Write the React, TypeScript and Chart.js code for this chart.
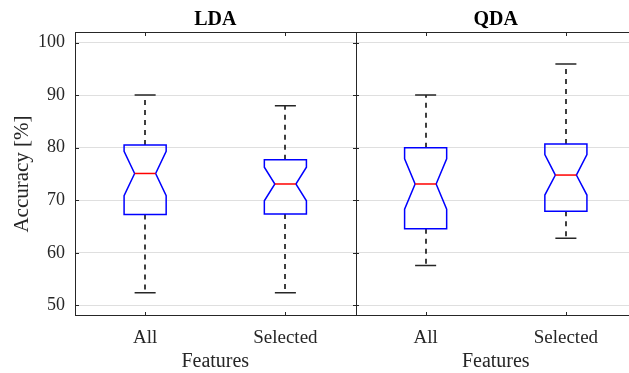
import React, { useEffect, useRef } from "react";
import { Chart, registerables } from "chart.js";

Chart.register(...registerables);

const panels = ["LDA", "QDA"];
const categories = ["All", "Selected", "All", "Selected"];
const xPositions = [1, 2, 3, 4];
const whiskerLow = [52.4, 52.4, 57.6, 62.8];
const q1 = [67.3, 67.4, 64.6, 67.9];
const notchLow = [70.9, 69.9, 68.3, 71.0];
const median = [75.1, 73.1, 73.1, 74.8];
const notchHigh = [79.3, 76.3, 77.9, 78.7];
const q3 = [80.5, 77.7, 80.0, 80.7];
const whiskerHigh = [90.0, 88.0, 90.0, 95.9];
const yTicks = [50, 60, 70, 80, 90, 100];
const xTitle = "Features";
const yTitle = "Accuracy [%]";

const FONT = "'Liberation Serif', 'Times New Roman', serif";
const AXIS = "#262626";

const boxPlugin = {
  id: "boxPlugin",
  afterDatasetsDraw(chart: any) {
    const { ctx, chartArea, scales } = chart;
    const xs = scales.x;
    const ys = scales.y;
    const half = 0.15;
    const notchHalf = 0.075;
    const capHalf = 0.075;
    ctx.save();
    for (let i = 0; i < xPositions.length; i++) {
      const xc = Math.round(xs.getPixelForValue(xPositions[i]));
      const xl = xs.getPixelForValue(xPositions[i] - half);
      const xr = xs.getPixelForValue(xPositions[i] + half);
      const nl = xs.getPixelForValue(xPositions[i] - notchHalf);
      const nr = xs.getPixelForValue(xPositions[i] + notchHalf);
      const cl = xs.getPixelForValue(xPositions[i] - capHalf);
      const cr = xs.getPixelForValue(xPositions[i] + capHalf);
      const yWL = ys.getPixelForValue(whiskerLow[i]);
      const yQ1 = ys.getPixelForValue(q1[i]);
      const yNL = ys.getPixelForValue(notchLow[i]);
      const yMed = ys.getPixelForValue(median[i]);
      const yNH = ys.getPixelForValue(notchHigh[i]);
      const yQ3 = ys.getPixelForValue(q3[i]);
      const yWH = ys.getPixelForValue(whiskerHigh[i]);

      // whiskers (dashed)
      ctx.strokeStyle = "#000000";
      ctx.lineWidth = 1.5;
      ctx.setLineDash([5, 5]);
      ctx.beginPath();
      ctx.moveTo(xc, yQ3);
      ctx.lineTo(xc, yWH);
      ctx.moveTo(xc, yQ1);
      ctx.lineTo(xc, yWL);
      ctx.stroke();
      ctx.setLineDash([]);
      // caps
      ctx.strokeStyle = "#262626";
      ctx.beginPath();
      ctx.moveTo(cl, yWH);
      ctx.lineTo(cr, yWH);
      ctx.moveTo(cl, yWL);
      ctx.lineTo(cr, yWL);
      ctx.stroke();

      // notched box
      ctx.strokeStyle = "#0000ff";
      ctx.lineWidth = 1.5;
      ctx.beginPath();
      ctx.moveTo(xl, yQ3);
      ctx.lineTo(xr, yQ3);
      ctx.lineTo(xr, yNH);
      ctx.lineTo(nr, yMed);
      ctx.lineTo(xr, yNL);
      ctx.lineTo(xr, yQ1);
      ctx.lineTo(xl, yQ1);
      ctx.lineTo(xl, yNL);
      ctx.lineTo(nl, yMed);
      ctx.lineTo(xl, yNH);
      ctx.closePath();
      ctx.stroke();

      // median
      ctx.strokeStyle = "#ff0000";
      ctx.beginPath();
      ctx.moveTo(nl, yMed);
      ctx.lineTo(nr, yMed);
      ctx.stroke();
    }

    // frame
    const { left, right, top, bottom } = chartArea;
    const xDiv = xs.getPixelForValue(2.5);
    ctx.strokeStyle = AXIS;
    ctx.lineWidth = 1;
    ctx.beginPath();
    ctx.moveTo(left, top + 0.5);
    ctx.lineTo(right, top + 0.5);
    ctx.moveTo(left, bottom - 0.5);
    ctx.lineTo(right, bottom - 0.5);
    ctx.moveTo(left + 0.5, top);
    ctx.lineTo(left + 0.5, bottom);
    ctx.moveTo(Math.round(xDiv) + 0.5, top);
    ctx.lineTo(Math.round(xDiv) + 0.5, bottom);
    // ticks
    const tl = 4;
    for (const v of yTicks) {
      const y = Math.round(ys.getPixelForValue(v)) + 0.5;
      ctx.moveTo(left, y);
      ctx.lineTo(left + tl, y);
      ctx.moveTo(Math.round(xDiv) - 3, y);
      ctx.lineTo(Math.round(xDiv) + 3, y);
    }
    for (const p of xPositions) {
      const x = Math.round(xs.getPixelForValue(p)) + 0.5;
      ctx.moveTo(x, top);
      ctx.lineTo(x, top + tl);
      ctx.moveTo(x, bottom);
      ctx.lineTo(x, bottom - tl);
    }
    ctx.stroke();

    // panel titles and x titles
    ctx.fillStyle = "#000000";
    ctx.textAlign = "center";
    ctx.textBaseline = "middle";
    const centers = [
      (left + xDiv) / 2,
      xs.getPixelForValue(3.5),
    ];
    panels.forEach((t, i) => {
      ctx.font = `bold 20px ${FONT}`;
      ctx.fillStyle = "#000000";
      ctx.fillText(t, centers[i], 20);
      ctx.font = `20px ${FONT}`;
      ctx.fillStyle = AXIS;
      ctx.fillText(xTitle, centers[i], 362);
    });
    ctx.restore();
  },
};

export default function App() {
  const ref = useRef<HTMLCanvasElement>(null);
  useEffect(() => {
    if (!ref.current) return;
    const chart = new Chart(ref.current, {
      type: "scatter",
      data: {
        datasets: [
          {
            data: xPositions.map((x, i) => ({ x, y: median[i] })),
            pointRadius: 0,
            showLine: false,
          },
        ],
      },
      options: {
        animation: false,
        responsive: false,
        layout: { padding: { top: 32, left: 0, right: 0, bottom: 0 } },
        plugins: { legend: { display: false }, tooltip: { enabled: false } },
        scales: {
          x: {
            type: "linear",
            min: 0.5,
            max: 4.45,
            afterBuildTicks: (s: any) => {
              s.ticks = xPositions.map((v) => ({ value: v }));
            },
            afterFit: (s: any) => {
              s.height = 57;
            },
            grid: { display: false, drawTicks: false },
            border: { display: false },
            ticks: {
              autoSkip: false,
              maxRotation: 0,
              padding: 11,
              color: AXIS,
              font: { family: FONT, size: 19 },
              callback: (v: any) => {
                const idx = xPositions.indexOf(Number(v));
                return idx >= 0 ? categories[idx] : "";
              },
            },
          },
          y: {
            type: "linear",
            min: 48,
            max: 102,
            afterBuildTicks: (s: any) => {
              s.ticks = yTicks.map((v) => ({ value: v }));
            },
            afterFit: (s: any) => {
              s.width = 75;
            },
            grid: { color: "#dfdfdf", drawTicks: false, lineWidth: 1 },
            border: { display: false },
            ticks: {
              padding: 10,
              color: AXIS,
              font: { family: FONT, size: 18 },
            },
            title: {
              display: true,
              text: yTitle,
              color: AXIS,
              font: { family: FONT, size: 21 },
              padding: { top: 10, bottom: 0 },
            },
          },
        },
      },
      plugins: [boxPlugin],
    });
    return () => chart.destroy();
  }, []);
  return (
    <div style={{ position: "fixed", left: 0, top: 0, width: 629, height: 373, background: "#ffffff" }}>
      <canvas ref={ref} width={629} height={373} />
    </div>
  );
}
